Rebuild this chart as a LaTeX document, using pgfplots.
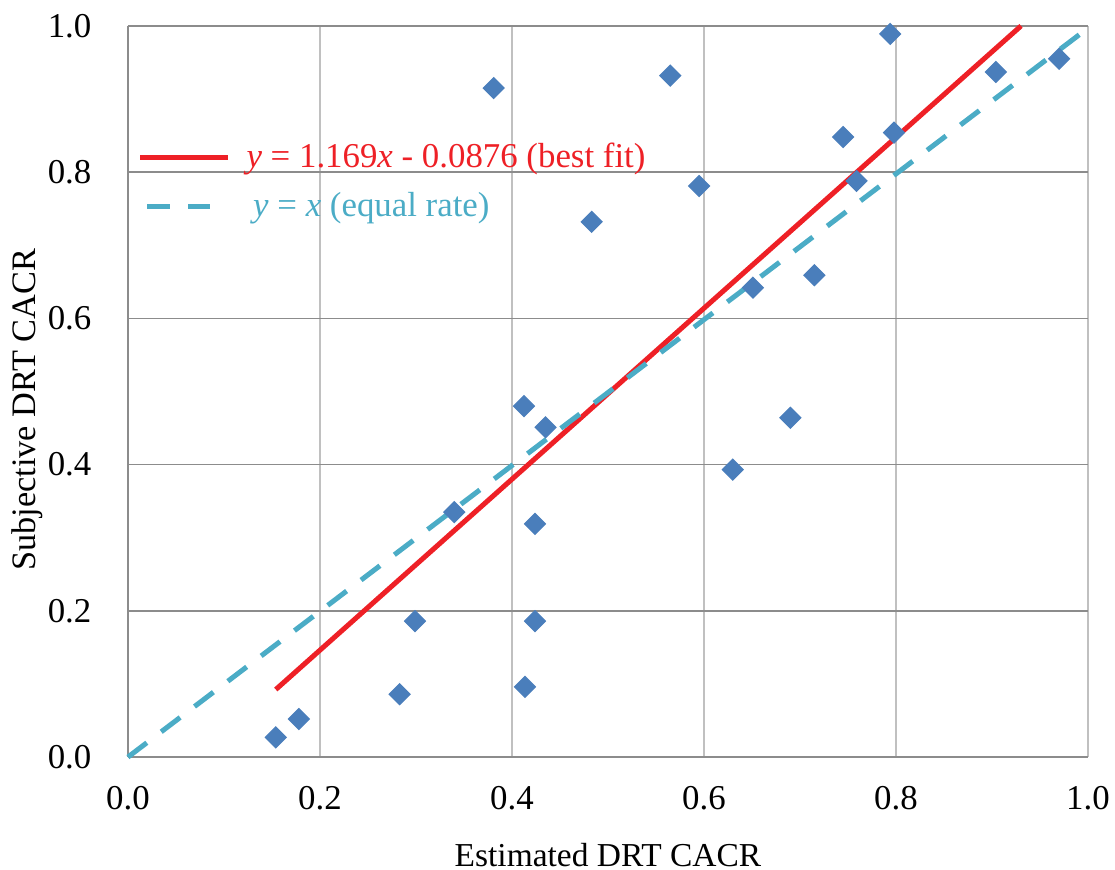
\documentclass[border=0pt]{standalone}
\usepackage{pgfplots}
\pgfplotsset{compat=1.18}
\usepackage{fontspec}
\setmainfont{Liberation Serif}
\definecolor{fitred}{HTML}{EE2026}
\definecolor{eqteal}{HTML}{4BACC6}
\definecolor{ptblue}{HTML}{4A7EBB}
\definecolor{hgrid}{HTML}{8C8C8C}
\definecolor{vgrid}{HTML}{C0C0C0}
\begin{document}
\begin{tikzpicture}
\begin{axis}[
  scale only axis,
  width=344.4pt, height=262.3pt,
  xmin=0, xmax=1, ymin=0, ymax=1,
  xtick={0,0.2,0.4,0.6,0.8,1.0}, ytick={0,0.2,0.4,0.6,0.8,1.0},
  /pgf/number format/fixed,
  /pgf/number format/fixed zerofill,
  /pgf/number format/precision=1,
  /pgf/number format/assume math mode=true,
  every x tick label/.append style={yshift=-7pt},
  every y tick label/.append style={xshift=-9.6pt},
  tick label style={font=\fontsize{12.5}{14}\selectfont},
  major tick length=0pt,
  axis x line*=bottom, axis y line*=left,
  axis line style={-, draw=hgrid, line width=0.8pt},
  xmajorgrids, ymajorgrids,
  x grid style={draw=vgrid, line width=0.6pt},
  y grid style={draw=hgrid, line width=0.6pt},
  xlabel={Estimated DRT CACR},
  ylabel={Subjective DRT CACR},
  every axis x label/.style={at={(axis description cs:0.5,-0.134)}, anchor=center, font=\fontsize{12}{14}\selectfont},
  every axis y label/.style={at={(axis description cs:-0.105,0.475)}, anchor=center, rotate=90, font=\fontsize{12.3}{14}\selectfont},
  clip=false,
  legend style={at={(axis description cs:0.001,0.856)}, anchor=north west, draw=none, fill=none,
    font=\fontsize{12.5}{14}\selectfont, row sep=3.5pt, cells={anchor=west}},
  legend cell align=left,
]
\addplot[only marks, mark=square*, mark size=2.65pt, mark options={rotate=45, fill=ptblue, draw=ptblue}, forget plot] table {
x y
0.154 0.027
0.178 0.052
0.283 0.086
0.299 0.186
0.340 0.335
0.381 0.915
0.4125 0.480
0.4135 0.096
0.424 0.319
0.424 0.186
0.435 0.451
0.483 0.732
0.565 0.932
0.595 0.781
0.630 0.393
0.651 0.642
0.690 0.464
0.715 0.659
0.745 0.848
0.759 0.788
0.794 0.989
0.798 0.854
0.904 0.937
0.970 0.955
};
\addplot[fitred, line width=1.8pt, legend image code/.code={\draw[fitred, line width=1.8pt] (0pt,0pt) -- (31.6pt,0pt);}] coordinates {(0.154,0.0924) (0.9303,1.0)};
\addlegendentry{\hspace{3.6pt}\textcolor{fitred}{\textit{y} = 1.169\textit{x} - 0.0876 (best fit)}}
\addplot[eqteal, line width=1.8pt, dash pattern=on 8.5pt off 6.5pt, legend image code/.code={\draw[eqteal, line width=1.8pt, dash pattern=on 8.2pt off 6.5pt] (2.5pt,0pt) -- (25pt,0pt);}] coordinates {(0,0) (0.993,0.99)};
\addlegendentry{\hspace{6pt}\textcolor{eqteal}{\textit{y} = \textit{x} (equal rate)}}
\end{axis}
\pgfresetboundingbox
\path (-45.9pt,-40.5pt) rectangle (354.1pt,271.6pt);
\end{tikzpicture}
\end{document}
